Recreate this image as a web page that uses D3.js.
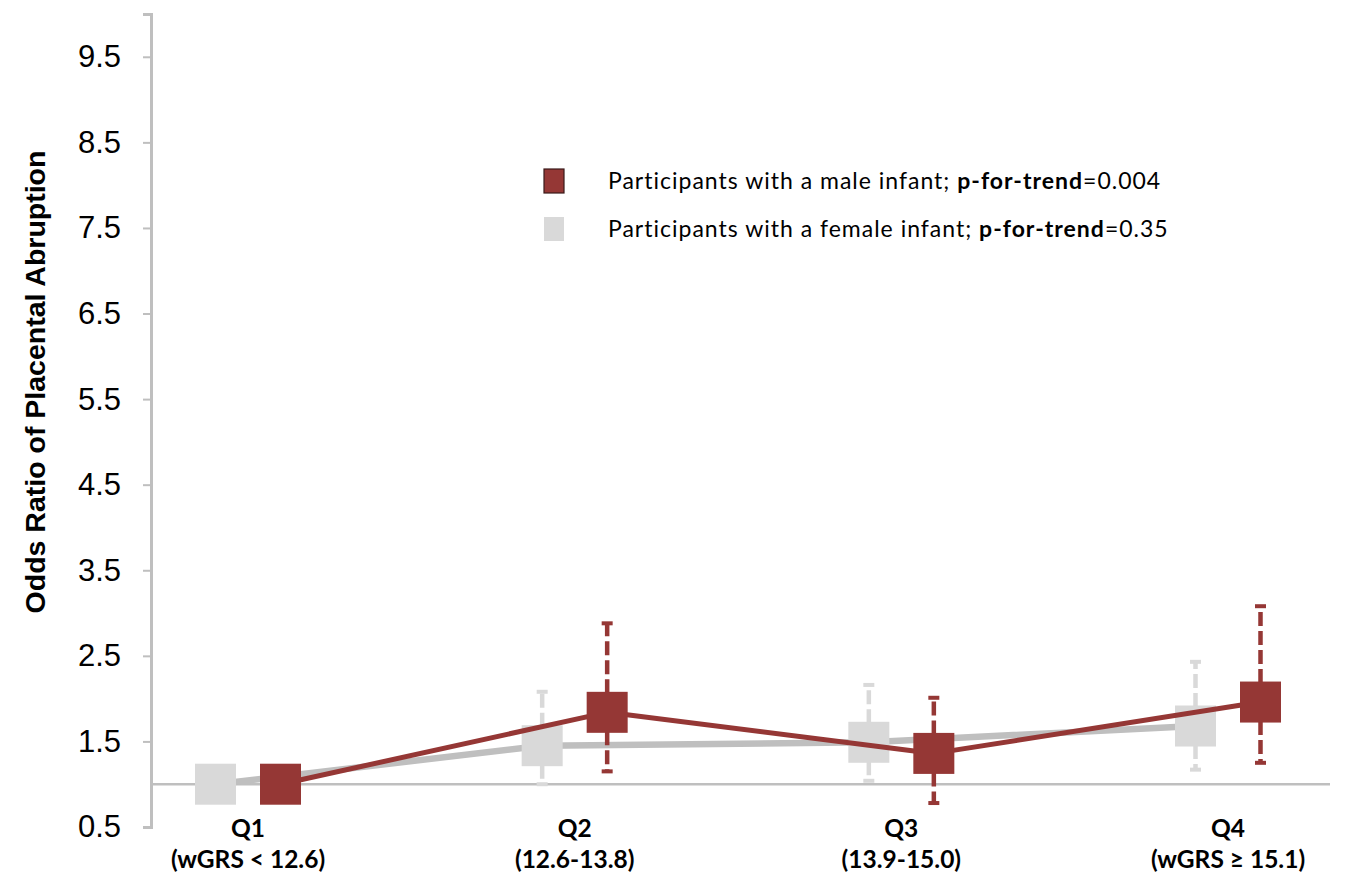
<!DOCTYPE html>
<html>
<head>
<meta charset="utf-8">
<script src="https://cdn.jsdelivr.net/npm/d3@7"></script>
<style>
  html, body { margin: 0; padding: 0; background: #fff; }
  svg { display: block; }
</style>
</head>
<body>
<svg id="chart" width="1346" height="876"></svg>
<script>
// ---- data ----
const categories = ["Q1", "Q2", "Q3", "Q4"];
const categorySubLabels = ["(wGRS < 12.6)", "(12.6-13.8)", "(13.9-15.0)", "(wGRS \u2265 15.1)"];
const yTicks = [0.5, 1.5, 2.5, 3.5, 4.5, 5.5, 6.5, 7.5, 8.5, 9.5];

const femaleOR  = [1.00, 1.45, 1.49, 1.68];
const femaleLow = [null, 1.00, 1.04, 1.17];
const femaleHigh= [null, 2.08, 2.16, 2.43];

const maleOR    = [1.00, 1.84, 1.36, 1.96];
const maleLow   = [null, 1.15, 0.78, 1.25];
const maleHigh  = [null, 2.88, 2.01, 3.08];

const legendLabels = [
  {pre: "Participants with a male infant; ", bold: "p-for-trend", post: "=0.004"},
  {pre: "Participants with a female infant; ", bold: "p-for-trend", post: "=0.35"}
];

// ---- styling ----
const maleColor = "#953735";
const femaleColor = "#d9d9d9";
const femaleLineColor = "#bfbfbf";
const axisColor = "#bfbfbf";

const svg = d3.select("#chart");

const x = d3.scalePoint().domain(categories).range([150, 1326]).padding(0.3);
const y = d3.scaleLinear().domain([0.5, 10]).range([827, 14]);
const offset = 32.5;
const sq = 41;

// y axis
const yAxis = d3.axisLeft(y).tickValues(yTicks).tickFormat(d3.format(".1f")).tickSize(8).tickPadding(22);
const gy = svg.append("g").attr("transform", "translate(151,0)").call(yAxis);
gy.select(".domain").attr("stroke", axisColor).attr("stroke-width", 3);
gy.selectAll(".tick line").attr("stroke", axisColor).attr("stroke-width", 2);
gy.selectAll(".tick text")
  .attr("font-family", "'Liberation Sans', Arial, sans-serif")
  .attr("font-size", 31).attr("fill", "#000");

// baseline at OR = 1
svg.append("line")
  .attr("x1", 151).attr("x2", 1330)
  .attr("y1", y(1)).attr("y2", y(1))
  .attr("stroke", axisColor).attr("stroke-width", 2.5);

// y title
svg.append("text")
  .attr("transform", `translate(45,${382}) rotate(-90)`)
  .attr("text-anchor", "middle")
  .attr("font-family", "'Liberation Sans', Arial, sans-serif")
  .attr("font-weight", "bold").attr("font-size", 28.5)
  .attr("fill", "#000")
  .text("Odds Ratio of Placental Abruption");

// x labels
const xl = svg.append("g");
categories.forEach((c, i) => {
  xl.append("text").attr("x", x(c)).attr("y", 837)
    .attr("text-anchor", "middle")
    .attr("font-family", "Lato, 'Open Sans', sans-serif")
    .attr("font-weight", "bold").attr("font-size", 24.5).attr("fill", "#000")
    .text(c);
  xl.append("text").attr("x", x(c)).attr("y", 868)
    .attr("text-anchor", "middle")
    .attr("font-family", "Lato, 'Open Sans', sans-serif")
    .attr("font-weight", "bold").attr("font-size", 24.5).attr("fill", "#000")
    .text(categorySubLabels[i]);
});

function drawSeries(vals, lows, highs, dx, lineColor, lineWidth, markColor) {
  const g = svg.append("g");
  const pts = categories.map((c, i) => [x(c) + dx, y(vals[i])]);
  g.append("path")
    .attr("d", d3.line()(pts))
    .attr("fill", "none").attr("stroke", lineColor)
    .attr("stroke-width", lineWidth).attr("stroke-linejoin", "round");
  // whiskers
  categories.forEach((c, i) => {
    if (lows[i] == null) return;
    const cx = x(c) + dx, cy = y(vals[i]);
    [highs[i], lows[i]].forEach(v => {
      g.append("line")
        .attr("x1", cx).attr("x2", cx)
        .attr("y1", cy).attr("y2", y(v))
        .attr("stroke", markColor).attr("stroke-width", 4.5)
        .attr("stroke-dasharray", "14,5");
      g.append("line")
        .attr("x1", cx - 5.5).attr("x2", cx + 5.5)
        .attr("y1", y(v)).attr("y2", y(v))
        .attr("stroke", markColor).attr("stroke-width", 4);
    });
  });
  // squares
  g.selectAll("rect").data(categories).join("rect")
    .attr("x", (c) => x(c) + dx - sq / 2)
    .attr("y", (c, i) => y(vals[i]) - sq / 2)
    .attr("width", sq).attr("height", sq)
    .attr("fill", markColor);
}

drawSeries(femaleOR, femaleLow, femaleHigh, -offset, femaleLineColor, 6.5, femaleColor);
drawSeries(maleOR, maleLow, maleHigh, offset, maleColor, 5, maleColor);

// legend
const lg = svg.append("g");
const legendColors = [maleColor, femaleColor];
legendLabels.forEach((d, i) => {
  const cy = 181 + i * 48;
  lg.append("rect").attr("x", 544).attr("y", cy - 12).attr("width", 20).attr("height", 24)
    .attr("fill", legendColors[i])
    .attr("stroke", i === 0 ? "#3a1a19" : "none").attr("stroke-width", 1.2);
  const t = lg.append("text").attr("x", 608).attr("y", cy + 8)
    .attr("font-family", "Lato, 'Open Sans', sans-serif")
    .attr("font-size", 23).attr("letter-spacing", 1).attr("fill", "#000");
  t.append("tspan").text(d.pre);
  t.append("tspan").attr("font-weight", "bold").text(d.bold);
  t.append("tspan").text(d.post);
});
</script>
</body>
</html>
